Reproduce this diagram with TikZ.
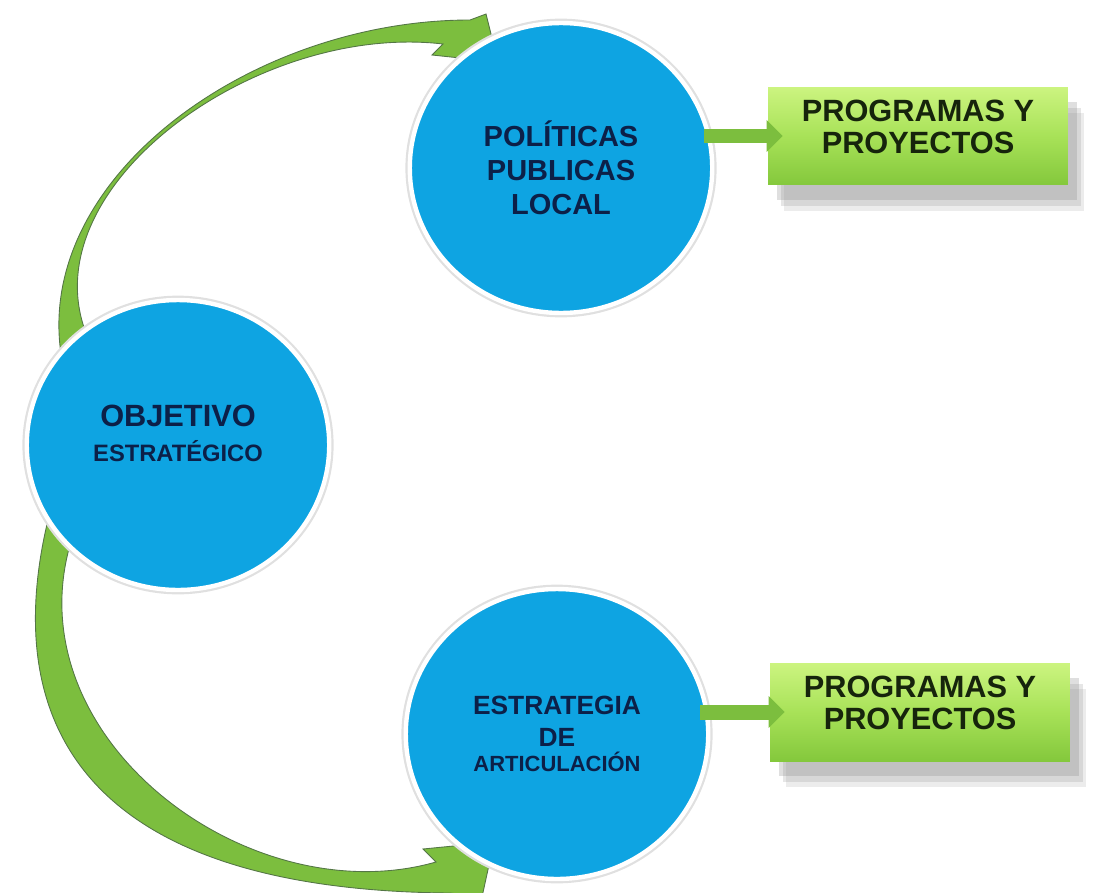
\documentclass[tikz,border=0pt]{standalone}
\usepackage{fontspec}
\setmainfont{Liberation Sans}
\usetikzlibrary{shapes.geometric,shadows,arrows.meta,calc}

\definecolor{circblue}{RGB}{14,164,226}
\definecolor{navy}{RGB}{12,32,72}
\definecolor{bandgreen}{RGB}{124,190,62}
\definecolor{bandedge}{RGB}{84,118,70}
\definecolor{boxtop}{RGB}{204,244,128}
\definecolor{boxmid}{RGB}{168,226,88}
\definecolor{boxbot}{RGB}{132,200,60}
\definecolor{boxtext}{RGB}{22,36,12}

\tikzset{
  bubble/.style={ellipse, fill=circblue, draw=white, line width=2.5pt,
    preaction={draw=black!12, line width=5pt},
    minimum width=6.05cm, minimum height=5.8cm, inner sep=0pt,
    text=navy, align=center},
  probox/.style={rectangle, minimum width=6cm, minimum height=1.96cm,
    top color=boxtop, bottom color=boxbot, middle color=boxmid,
    drop shadow={shadow xshift=0.32cm, shadow yshift=-0.52cm, fill=black!50, opacity=0.15},
    drop shadow={shadow xshift=0.26cm, shadow yshift=-0.42cm, fill=black!50, opacity=0.2},
    drop shadow={shadow xshift=0.18cm, shadow yshift=-0.30cm, fill=black!50, opacity=0.25},
    text=boxtext, font=\bfseries\fontsize{17.5}{18}\selectfont, align=center},
  curlarrow/.style={fill=bandgreen, draw=bandedge, line width=0.5pt},
  kickarrow/.style={draw=bandgreen, line width=0.3cm,
    -{Triangle[length=0.32cm,width=0.62cm]}, shorten >=-0.3cm}
}

\begin{document}
\begin{tikzpicture}[x=0.02cm,y=-0.02cm]
  \useasboundingbox (0,0) rectangle (1094,892);

  % curved arrows, behind the circles
  \draw[curlarrow] (62,360) .. controls (30,180) and (250,20) .. (470,20)
    -- (486,14) -- (498,62) -- (432,55) -- (443,44)
    .. controls (255,22) and (25,190) .. (88,338) -- cycle;
  \draw[curlarrow] (48,520) .. controls (0,720) and (80,890) .. (450,893)
    -- (482,897) -- (494,842) -- (423,849) -- (436,862)
    .. controls (250,915) and (15,740) .. (70,545) -- cycle;

  \node[bubble, font=\bfseries\fontsize{16.5}{19.5}\selectfont] (pol) at (561,168)
    {POLÍTICAS\\PUBLICAS\\LOCAL};
  \node[bubble, font=\bfseries\fontsize{17.5}{20}\selectfont] (obj) at (178,445)
    {OBJETIVO\\{\fontsize{13.5}{16}\selectfont ESTRATÉGICO}\\[-0.25cm]{}};
  \node[bubble, font=\bfseries\fontsize{15}{18}\selectfont] (est) at (557,734)
    {ESTRATEGIA\\DE\\[-0.14cm]{\fontsize{12.5}{15}\selectfont ARTICULACIÓN}};

  \node[probox] (prog1) at (918,136) {PROGRAMAS Y\\PROYECTOS\\[-0.27cm]{}};
  \node[probox] (prog2) at (920,712) {PROGRAMAS Y\\PROYECTOS\\[-0.27cm]{}};

  \draw[kickarrow] ($(pol.east |- prog1.west)+(-10,0)$) -- (prog1.west);
  \draw[kickarrow] ($(est.east |- prog2.west)+(-10,0)$) -- (prog2.west);
\end{tikzpicture}
\end{document}
